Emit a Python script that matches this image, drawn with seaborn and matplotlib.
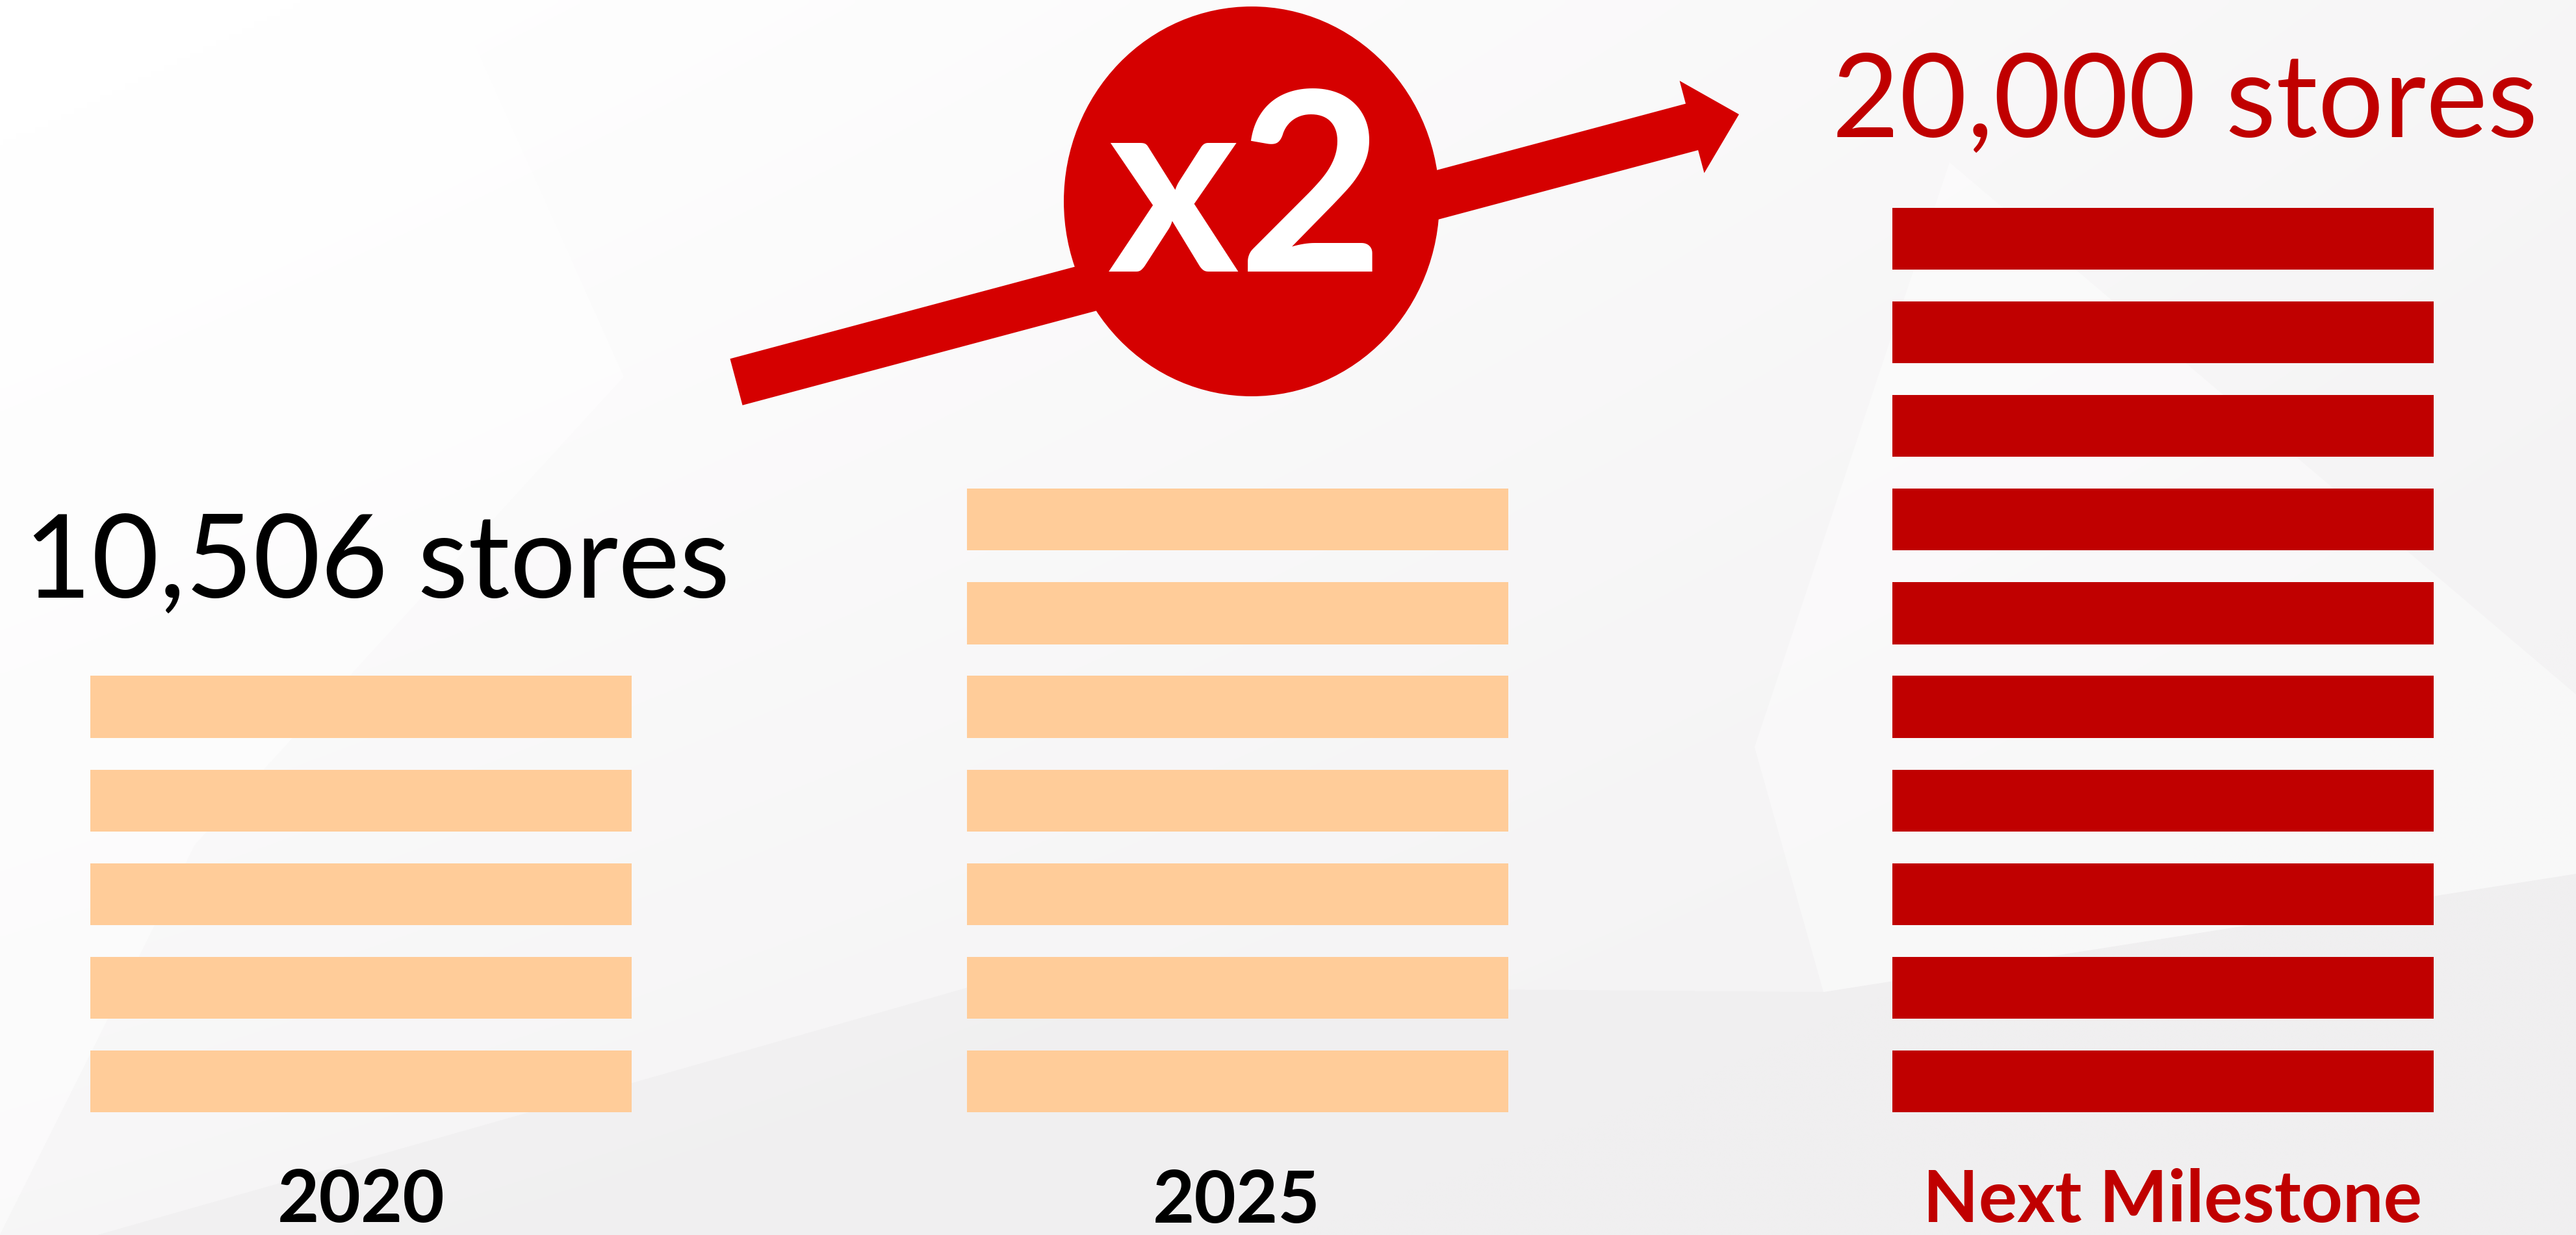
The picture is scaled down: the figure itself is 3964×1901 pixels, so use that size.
import numpy as np
import pandas as pd
import matplotlib
matplotlib.use("Agg")
import matplotlib.pyplot as plt
from matplotlib.patches import Ellipse, FancyArrow, Polygon
import seaborn as sns

# ---------------- data ----------------
groups = ["2020", "2025", "Next Milestone"]
bar_units = [5, 7, 10]                      # stacked bars per group
headline_labels = ["10,506 stores", None, "20,000 stores"]
multiplier_label = "x2"

# ---------------- styles / layout ----------------
PEACH = "#FFCC99"
DARK_RED = "#C00000"
ARROW_RED = "#D50000"
group_colors = [PEACH, PEACH, DARK_RED]
label_colors = ["#000000", "#000000", DARK_RED]
headline_colors = ["#000000", None, DARK_RED]

W, H = 3964, 1901
DPI = 100

sns.set_theme(style="white")
plt.rcParams["font.family"] = ["Lato", "DejaVu Sans"]

max_units = max(bar_units)
levels = [f"L{i}" for i in range(max_units)]
rows = []
for g, n in zip(groups, bar_units):
    for i in range(n):
        rows.append({"group": g, "level": levels[i], "units": 1})
df = pd.DataFrame(rows)

fig = plt.figure(figsize=(W / DPI, H / DPI), dpi=DPI)
fig.patch.set_facecolor("#F6F5F6")

# ---------------- background ----------------
ax_bg = fig.add_axes([0, 0, 1, 1], zorder=0)
yy, xx = np.mgrid[0:1:200j, 0:1:400j]
t = np.clip(0.5 * xx + 0.5 * yy + 0.25 - 0.35 * (1 - xx) * (1 - yy), 0, 1)
c0 = np.array([1.0, 1.0, 1.0])
c1 = np.array([0xF4, 0xF3, 0xF4]) / 255
img = c0[None, None, :] * (1 - t[..., None]) + c1[None, None, :] * t[..., None]
ax_bg.imshow(img, extent=[0, W, H, 0], aspect="auto", interpolation="bilinear")
ax_bg.add_patch(Polygon([(150, H), (1500, 1517), (2806, 1527), (W, 1345), (W, H)],
                        closed=True, facecolor="#EDECED", edgecolor="none", alpha=0.55))
ax_bg.add_patch(Polygon([(3000, 250), (W, 1069), (W, 1345), (2806, 1527), (2700, 1150)],
                        closed=True, facecolor="#FFFFFF", edgecolor="none", alpha=0.45))
ax_bg.add_patch(Polygon([(0, 0), (700, 0), (960, 580), (300, 1300), (0, 1900)],
                        closed=True, facecolor="#FFFFFF", edgecolor="none", alpha=0.5))
ax_bg.set_xlim(0, W)
ax_bg.set_ylim(H, 0)
ax_bg.axis("off")

# ---------------- stacked bar columns ----------------
lefts = [139, 1488, 2912]
col_w = 833
pitch = 144.1
top_bar_top = 320
bar_frac = 0.66
ax_top = top_bar_top - (0.5 - bar_frac / 2) * pitch
ax_h = max_units * pitch

for g, left, col in zip(groups, lefts, group_colors):
    ax = fig.add_axes([left / W, 1 - (ax_top + ax_h) / H, col_w / W, ax_h / H], zorder=1)
    ax.patch.set_alpha(0)
    sns.barplot(data=df[df["group"] == g], x="units", y="level", order=levels[::-1],
                orient="h", color=col, saturation=1, width=bar_frac, errorbar=None,
                linewidth=0, ax=ax)
    ax.set_xlim(0, 1)
    ax.set_ylim(max_units - 0.5, -0.5)
    ax.axis("off")

# ---------------- overlay: arrow, badge, labels ----------------
ov = fig.add_axes([0, 0, 1, 1], zorder=2)
ov.patch.set_alpha(0)
ov.set_xlim(0, W)
ov.set_ylim(H, 0)
ov.axis("off")

ov.add_patch(FancyArrow(1133, 588, 1543, -412, width=74, head_width=147, head_length=75,
                        length_includes_head=True, color=ARROW_RED, lw=0))
ov.add_patch(Ellipse((1926, 310), 578, 600, color=ARROW_RED, lw=0))
ov.text(1918, 418, multiplier_label, ha="center", va="baseline", fontsize=278,
        fontweight="bold", color="white")

headline_pos = [(37, 920), None, (2819, 211)]
for lab, pos, col in zip(headline_labels, headline_pos, headline_colors):
    if lab is None:
        continue
    ov.text(pos[0], pos[1], lab, ha="left", va="baseline", fontsize=129,
            fontweight="normal", color=col)

label_x = [556, 1903, 3343]
label_base = [1881, 1882, 1881]
for g, x, y, col in zip(groups, label_x, label_base, label_colors):
    ov.text(x, y, g, ha="center", va="baseline", fontsize=80, fontweight="bold", color=col)

fig.savefig("out.png", dpi=DPI)
